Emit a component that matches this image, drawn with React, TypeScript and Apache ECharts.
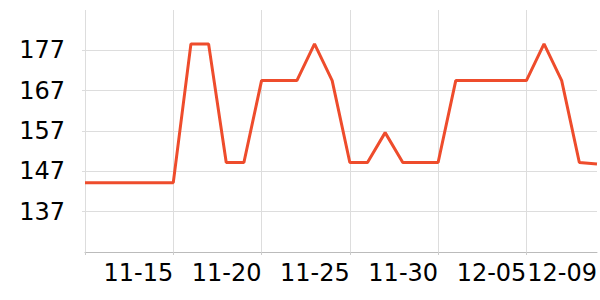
import React, { useEffect, useRef } from "react";
import * as echarts from "echarts";

const dates = [
  "11-10", "11-11", "11-12", "11-13", "11-14", "11-15", "11-16", "11-17", "11-18", "11-19",
  "11-20", "11-21", "11-22", "11-23", "11-24", "11-25", "11-26", "11-27", "11-28", "11-29",
  "11-30", "12-01", "12-02", "12-03", "12-04", "12-05", "12-06", "12-07", "12-08", "12-09",
];

const values = [
  144.2, 144.2, 144.2, 144.2, 144.2, 144.2, 178.6, 178.6, 149.2, 149.2,
  169.5, 169.5, 169.5, 178.6, 169.5, 149.2, 149.2, 156.6, 149.2, 149.2,
  149.2, 169.5, 169.5, 169.5, 169.5, 169.5, 178.6, 169.5, 149.2, 148.8,
];

const yMin = 127;
const yMax = 187;
const yStep = 10;
const labelIndices = [5, 10, 15, 20, 25, 29];
const gridIndices = [0, 5, 10, 15, 20, 25];

export default function App() {
  const ref = useRef<HTMLDivElement>(null);

  useEffect(() => {
    if (!ref.current) return;
    const chart = echarts.init(ref.current, null, { renderer: "svg" });
    chart.setOption({
      animation: false,
      backgroundColor: "#ffffff",
      grid: { left: 85, right: 2, top: 10, bottom: 48, containLabel: false },
      xAxis: {
        type: "category",
        data: dates,
        boundaryGap: false,
        axisLine: { show: true, lineStyle: { color: "#bbbbbb", width: 1 } },
        axisTick: {
          show: true,
          length: 3,
          interval: (i: number) => gridIndices.includes(i),
          lineStyle: { color: "#cccccc" },
        },
        axisLabel: {
          show: true,
          interval: (i: number) => labelIndices.includes(i),
          align: "right",
          margin: 9,
          color: "#000000",
          fontFamily: "DejaVu Sans",
          fontSize: 24,
          hideOverlap: false,
        },
        splitLine: {
          show: true,
          interval: (i: number) => gridIndices.includes(i),
          lineStyle: { color: "#dddddd", width: 1 },
        },
      },
      yAxis: {
        type: "value",
        min: yMin,
        max: yMax,
        interval: yStep,
        axisLine: { show: false },
        axisTick: { show: true, length: 3, lineStyle: { color: "#dddddd" } },
        axisLabel: {
          show: true,
          showMinLabel: false,
          showMaxLabel: false,
          margin: 20,
          color: "#000000",
          fontFamily: "DejaVu Sans",
          fontSize: 24,
        },
        splitLine: {
          show: true,
          showMinLine: false,
          showMaxLine: false,
          lineStyle: { color: "#dddddd", width: 1 },
        },
      },
      series: [
        {
          type: "line",
          data: values,
          showSymbol: false,
          symbol: "none",
          lineStyle: { color: "#ee4c2c", width: 3 },
          itemStyle: { color: "#ee4c2c" },
        },
      ],
    });
    return () => chart.dispose();
  }, []);

  return (
    <div
      ref={ref}
      style={{ position: "fixed", left: 0, top: 0, width: 600, height: 300 }}
    />
  );
}
